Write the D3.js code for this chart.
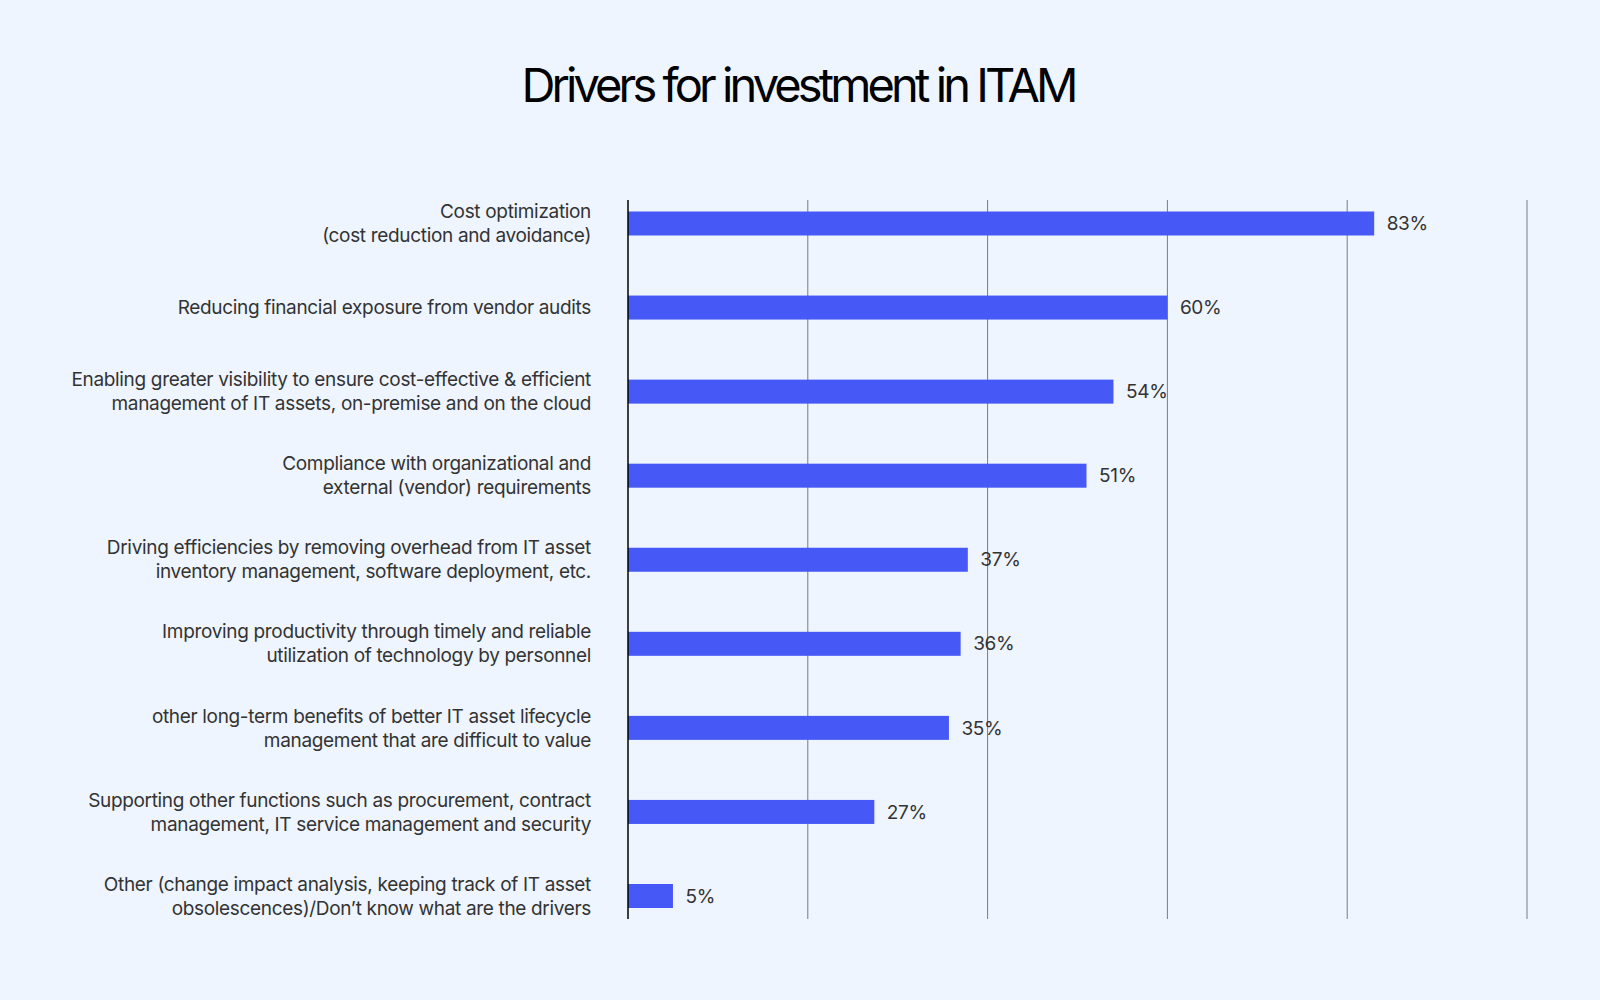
<!DOCTYPE html>
<meta charset="utf-8">
<script src="https://d3js.org/d3.v7.min.js"></script>
<style>
  body { margin: 0; background: #eef5ff; }
  text { font-family: Inter, "Noto Sans", sans-serif; }
</style>
<div id="chart"></div>
<script>
// data
const drivers = [
  ["Cost optimization", "(cost reduction and avoidance)"],
  ["Reducing financial exposure from vendor audits"],
  ["Enabling greater visibility to ensure cost-effective & efficient", "management of IT assets, on-premise and on the cloud"],
  ["Compliance with organizational and", "external (vendor) requirements"],
  ["Driving efficiencies by removing overhead from IT asset", "inventory management, software deployment, etc."],
  ["Improving productivity through timely and reliable", "utilization of technology by personnel"],
  ["other long-term benefits of better IT asset lifecycle", "management that are difficult to value"],
  ["Supporting other functions such as procurement, contract", "management, IT service management and security"],
  ["Other (change impact analysis, keeping track of IT asset", "obsolescences)/Don\u2019t know what are the drivers"]
];
// bar lengths as drawn in the picture, and the printed labels
const shares = [83, 60, 54, 51, 37.8, 37.0, 35.7, 27.4, 5];
const shareLabels = ["83%", "60%", "54%", "51%", "37%", "36%", "35%", "27%", "5%"];
const gridTicks = [0, 20, 40, 60, 80, 100];
const title = "Drivers for investment in ITAM";

const width = 1600, height = 1000;

const svg = d3.select("#chart")
  .append("svg")
  .attr("width", width)
  .attr("height", height);

svg.append("rect")
  .attr("width", width).attr("height", height)
  .attr("fill", "#eef5ff");

// title
svg.append("text")
  .attr("x", 800)
  .attr("y", 102)
  .attr("text-anchor", "middle")
  .attr("font-size", 47)
  .attr("fill", "#000")
  .attr("textLength", 557)
  .attr("lengthAdjust", "spacing")
  .text(title);

// scales
const x = d3.scaleLinear().domain([0, 100]).range([628, 1527]);
const idx = d3.range(shares.length);
const y = d3.scalePoint().domain(idx).range([223.5, 896]);
const barH = 24;

// grid lines
svg.append("g")
  .selectAll("line")
  .data(gridTicks.slice(1))
  .join("line")
    .attr("x1", d => x(d)).attr("x2", d => x(d))
    .attr("y1", 200).attr("y2", 919)
    .attr("stroke", "#7a7a80")
    .attr("stroke-width", 1);

// bars
svg.append("g")
  .selectAll("rect")
  .data(idx)
  .join("rect")
    .attr("x", x(0))
    .attr("y", i => y(i) - barH / 2)
    .attr("width", i => x(shares[i]) - x(0))
    .attr("height", barH)
    .attr("fill", "#4658f5");

// y axis line
svg.append("line")
  .attr("x1", x(0)).attr("x2", x(0))
  .attr("y1", 200).attr("y2", 919)
  .attr("stroke", "#000")
  .attr("stroke-width", 1.5);

// value labels
svg.append("g")
  .selectAll("text")
  .data(idx)
  .join("text")
    .attr("x", i => x(shares[i]) + 12.5)
    .attr("y", i => y(i))
    .attr("dy", "0.35em")
    .attr("font-size", 19)
    .attr("letter-spacing", -0.3)
    .attr("fill", "#333")
    .text(i => shareLabels[i]);

// category labels
const lab = svg.append("g")
  .selectAll("text")
  .data(idx)
  .join("text")
    .attr("x", 591)
    .attr("y", i => y(i))
    .attr("text-anchor", "end")
    .attr("font-size", 19)
    .attr("letter-spacing", -0.33)
    .attr("fill", "#333");

lab.selectAll("tspan")
  .data(i => drivers[i].map((t, k) => ({t, k, n: drivers[i].length})))
  .join("tspan")
    .attr("x", 591)
    .attr("dy", d => d.k === 0 ? (d.n === 1 ? "0.35em" : (0.35 * 19 - 12) + "px") : "24px")
    .text(d => d.t);
</script>
